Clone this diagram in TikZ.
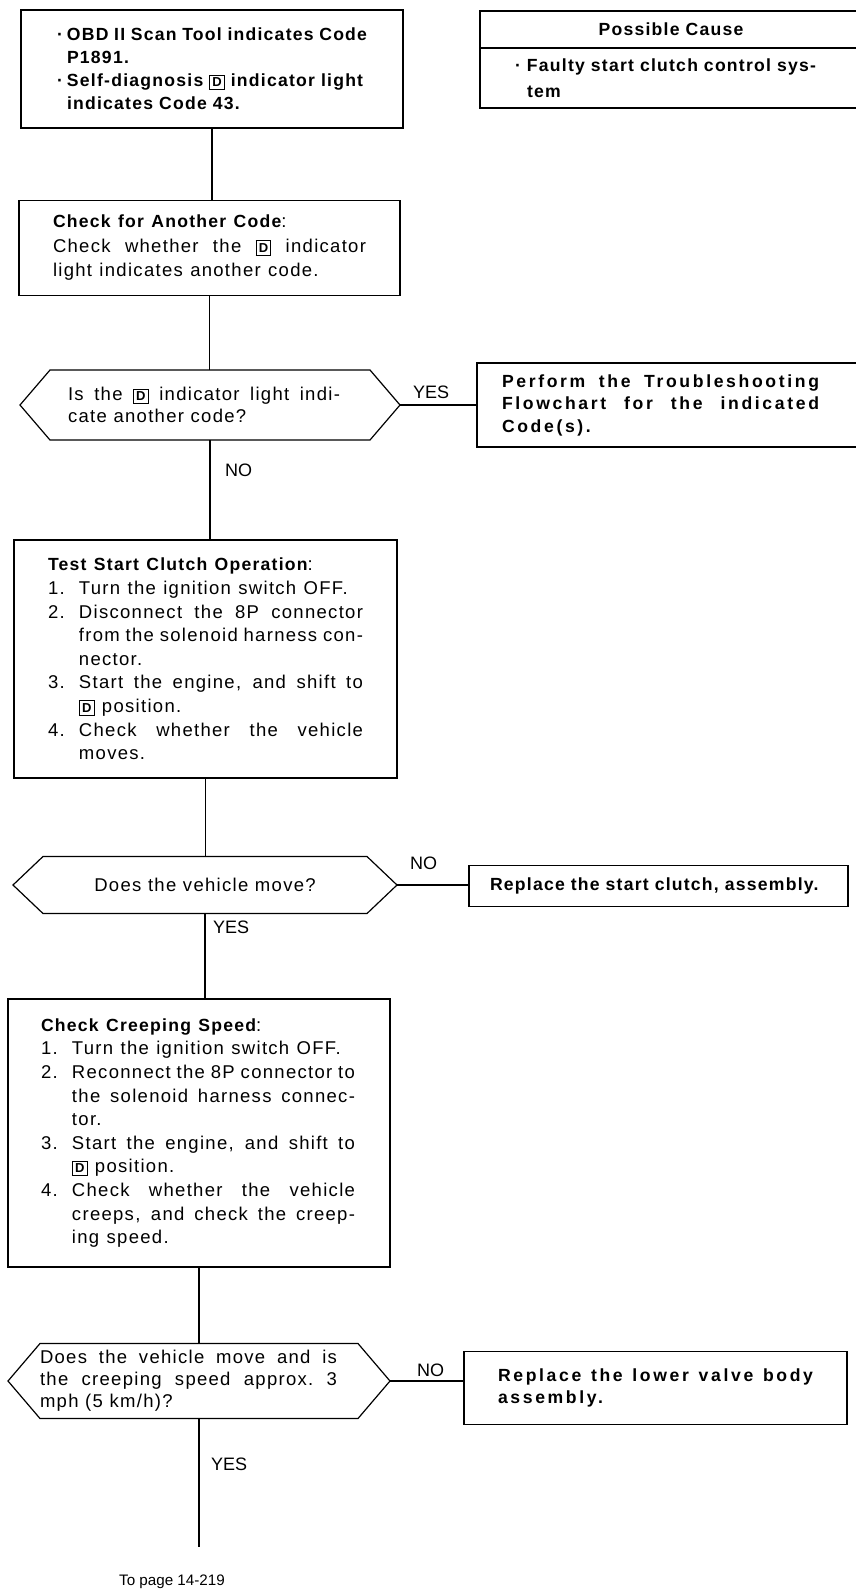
\documentclass[tikz,border=0pt]{standalone}
\usepackage{fontspec}
\setmainfont{Liberation Sans}[LetterSpace=7]
\newfontfamily\spaced{Liberation Sans}[LetterSpace=15]
\newfontfamily\plainfont{Liberation Sans}
\usepackage{tikz}

\newcommand\wsp[1]{\spaceskip=#1em plus .3em minus .15em\relax\xspaceskip=\spaceskip}
\newcommand\dkey{{\setlength\fboxsep{2.2pt}\setlength\fboxrule{0.9pt}\fbox{\fontsize{13}{13}\selectfont\bfseries D}}}
\newcommand\jl[2]{\makebox[#1][s]{#2}}
\newcommand\num[1]{\makebox[31pt][l]{#1}}
\newcommand\hd[1]{{\fontsize{17.6}{17.6}\selectfont\bfseries #1}}

\tikzset{
  box/.style={draw, line width=1.2pt, outer sep=0pt, inner sep=0pt, align=left},
  ask/.style={inner sep=0pt, outer sep=0pt, align=left, font=\fontsize{18.5}{22}\selectfont,
    execute at begin node=\wsp{.36}},
  bodytext/.style={font=\fontsize{18.5}{23.6}\selectfont, execute at begin node=\wsp{.4}},
  boldtext/.style={font=\fontsize{17.6}{23}\selectfont\bfseries, execute at begin node=\wsp{.34}},
  widebold/.style={font=\spaced\fontsize{17.6}{22.5}\selectfont\bfseries, execute at begin node=\wsp{.34}},
  tag/.style={font=\plainfont\fontsize{18}{18}\selectfont, inner sep=0pt, anchor=base west},
  link/.style={line width=1.2pt}
}

\begin{document}
\begin{tikzpicture}[x=1pt,y=-1pt]
  \useasboundingbox (0,0) rectangle (856,1591);

  % symptom and cause
  \node[box,boldtext,minimum width=382pt,minimum height=118pt,text width=310pt] (start) at (212,69)
    {\makebox[10pt][l]{·}OBD II Scan Tool indicates Code\\
     \hspace*{10pt}P1891.\\
     \makebox[10pt][l]{·}Self-diagnosis \dkey{} indicator light\\
     \hspace*{10pt}indicates Code 43.};
  \node[box,boldtext,minimum width=382pt,minimum height=37pt,align=center] (causehead) at (671,29.5)
    {Possible Cause};
  \node[box,boldtext,font=\fontsize{17.6}{26}\selectfont\bfseries,minimum width=382pt,minimum height=60pt,text width=312pt] (cause) at (671,78)
    {\makebox[12pt][l]{·}Faulty start clutch control sys-\\
     \hspace*{12pt}tem};

  % first check
  \node[box,bodytext,font=\fontsize{18.5}{24.5}\selectfont,minimum width=381pt,minimum height=95pt,text width=313pt] (another) at (209.5,248)
    {\hd{Check for Another Code}:\\
     \jl{313pt}{Check whether the \dkey{} indicator}\\
     light indicates another code.};
  \node[ask,minimum width=320pt,minimum height=70pt,text width=284pt] (q1) at (210,405)
    {\jl{272pt}{Is the \dkey{} indicator light indi-}\\
     cate another code?};
  \node[box,widebold,anchor=west,inner xsep=25pt,text width=335pt,minimum height=84pt] (fix1) at (477,405)
    {\jl{317pt}{Perform the Troubleshooting}\\
     \jl{317pt}{Flowchart for the indicated}\\
     Code(s).};

  % start clutch
  \node[box,bodytext,minimum width=383pt,minimum height=238pt,text width=315pt] (test) at (205.5,659)
    {\hd{Test Start Clutch Operation}:\\
     \num{1.}Turn the ignition switch OFF.\\
     \num{2.}\jl{284pt}{Disconnect the 8P connector}\\
     \num{}\jl{284pt}{from the solenoid harness con-}\\
     \num{}nector.\\
     \num{3.}\jl{284pt}{Start the engine, and shift to}\\
     \num{}\dkey{} position.\\
     \num{4.}\jl{284pt}{Check whether the vehicle}\\
     \num{}moves.};
  \node[ask,minimum width=324pt,minimum height=57pt,align=center] (q2) at (205,885)
    {Does the vehicle move?};
  \node[box,boldtext,anchor=west,inner xsep=21pt,text width=337pt,minimum height=41pt] (fix2) at (469,886)
    {Replace the start clutch, assembly.};

  % creeping speed
  \node[box,bodytext,minimum width=382pt,minimum height=268pt,text width=316pt] (check) at (199,1133)
    {\hd{Check Creeping Speed}:\\
     \num{1.}Turn the ignition switch OFF.\\
     \num{2.}\jl{283pt}{Reconnect the 8P connector to}\\
     \num{}\jl{283pt}{the solenoid harness connec-}\\
     \num{}tor.\\
     \num{3.}\jl{283pt}{Start the engine, and shift to}\\
     \num{}\dkey{} position.\\
     \num{4.}\jl{283pt}{Check whether the vehicle}\\
     \num{}\jl{283pt}{creeps, and check the creep-}\\
     \num{}ing speed.};
  \node[ask,minimum width=318pt,minimum height=75pt,text width=318pt] (q3) at (199,1381)
    {\jl{297pt}{Does the vehicle move and is}\\
     \jl{297pt}{the creeping speed approx. 3}\\
     mph (5 km/h)?};
  \node[box,widebold,anchor=west,inner xsep=34pt,text width=315pt,minimum height=73pt] (fix3) at (464,1388)
    {\jl{315pt}{Replace the lower valve body}\\
     assembly.};

  % hexagon outlines round the questions
  \foreach \q/\s in {q1/30,q2/30,q3/32} {
    \draw[link] ([xshift=-\s pt]\q.west) -- (\q.north west) -- (\q.north east)
      -- ([xshift=\s pt]\q.east) -- (\q.south east) -- (\q.south west) -- cycle;
    \coordinate (\q r) at ([xshift=\s pt]\q.east);
  }
  \coordinate (tail) at (199,1547);

  % connectors
  \draw[link] (start.south) -- (start.south |- another.north);
  \draw[link] (another.south) -- (another.south |- q1.north);
  \draw[link] (q1.south) -- (q1.south |- test.north);
  \draw[link] (test.south) -- (test.south |- q2.north);
  \draw[link] (q2.south) -- (q2.south |- check.north);
  \draw[link] (check.south) -- (check.south |- q3.north);
  \draw[link] (q3.south) -- (tail);
  \draw[link] (q1r) -- (q1r -| fix1.west);
  \draw[link] (q2r) -- (q2r -| fix2.west);
  \draw[link] (q3r) -- (q3r -| fix3.west);

  \node[tag] (yes1) at (413,398) {YES};
  \node[tag] (no1) at (225,476) {NO};
  \node[tag] (no2) at (410,869) {NO};
  \node[tag] (yes2) at (213,933) {YES};
  \node[tag] (no3) at (417,1376) {NO};
  \node[tag] (yes3) at (211,1470) {YES};
  \node[font=\plainfont\fontsize{15.2}{15.2}\selectfont,inner sep=0pt,anchor=base] (topage) at (172,1585) {To page 14-219};
\end{tikzpicture}
\end{document}
